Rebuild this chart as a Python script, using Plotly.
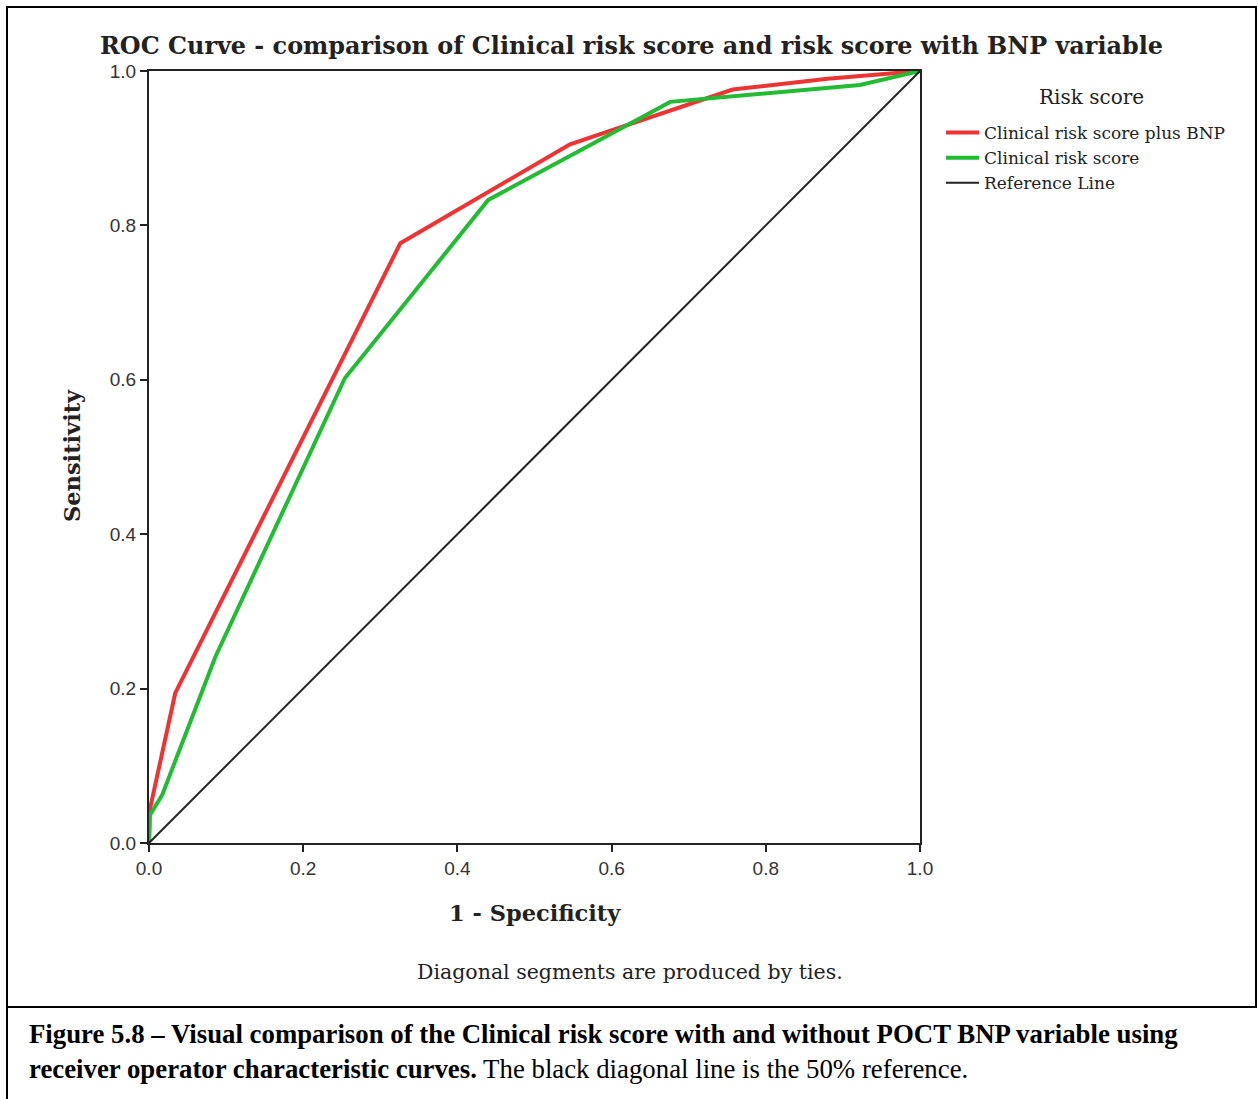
import plotly.graph_objects as go

# Data
bnp_fpr = [0.0, 0.001, 0.034, 0.326, 0.546, 0.757, 0.88, 1.0]
bnp_tpr = [0.0, 0.043, 0.194, 0.777, 0.905, 0.976, 0.99, 1.0]
clin_fpr = [0.0, 0.001, 0.017, 0.086, 0.254, 0.440, 0.676, 0.922, 1.0]
clin_tpr = [0.0, 0.036, 0.062, 0.241, 0.602, 0.833, 0.960, 0.982, 1.0]
ref_x = [0.0, 1.0]
ref_y = [0.0, 1.0]
tick_vals = [0.0, 0.2, 0.4, 0.6, 0.8, 1.0]
tick_text = ["0.0", "0.2", "0.4", "0.6", "0.8", "1.0"]

W, H = 1258, 1099
def px(x):
    return x / W
def py(y):
    return 1 - y / H

serif = "DejaVu Serif"
fig = go.Figure()
fig.add_trace(go.Scatter(x=bnp_fpr, y=bnp_tpr, mode="lines", name="Clinical risk score plus BNP",
                         line=dict(color="#ee3333", width=4)))
fig.add_trace(go.Scatter(x=clin_fpr, y=clin_tpr, mode="lines", name="Clinical risk score",
                         line=dict(color="#22bb33", width=4)))
fig.add_trace(go.Scatter(x=ref_x, y=ref_y, mode="lines", name="Reference Line",
                         line=dict(color="#222222", width=2)))

axis_common = dict(range=[0, 1], tickvals=tick_vals, ticktext=tick_text, showline=True,
                   linecolor="#222222", linewidth=2, mirror=True, ticks="outside", ticklen=7,
                   tickwidth=2, tickcolor="#222222", showgrid=False, zeroline=False,
                   automargin=False,
                   tickfont=dict(family="Liberation Sans", size=19, color="#333333"))

fig.update_layout(
    width=W, height=H, margin=dict(l=0, r=0, t=0, b=0),
    paper_bgcolor="white", plot_bgcolor="white",
    xaxis=dict(domain=[px(149), px(920)], anchor="y", **axis_common),
    yaxis=dict(domain=[py(843), py(71)], anchor="x", **axis_common),
    showlegend=True,
    legend=dict(x=px(941), y=py(115), xanchor="left", yanchor="top",
                font=dict(family=serif, size=17, color="#222222"),
                itemwidth=33, tracegroupgap=0, bgcolor="rgba(0,0,0,0)"),
)

anns = [
    dict(x=px(631), y=py(46), text="<b>ROC Curve - comparison of Clinical risk score and risk score with BNP variable</b>",
         font=dict(family=serif, size=23.9, color="#222222")),
    dict(x=px(72), y=py(456), text="<b>Sensitivity</b>", textangle=-90,
         font=dict(family=serif, size=22.5, color="#222222")),
    dict(x=px(535), y=py(913), text="<b>1 - Specificity</b>",
         font=dict(family=serif, size=22.5, color="#222222")),
    dict(x=px(630), y=py(972), text="Diagonal segments are produced by ties.",
         font=dict(family=serif, size=20.5, color="#222222")),
    dict(x=px(1091), y=py(97), text="Risk score",
         font=dict(family=serif, size=20, color="#222222")),
]
for a in anns:
    fig.add_annotation(xref="paper", yref="paper", showarrow=False, xanchor="center", yanchor="middle", **a)

fig.add_annotation(xref="paper", yref="paper", showarrow=False, xanchor="left", yanchor="middle",
                   x=px(27), y=py(1034),
                   text="<b>Figure 5.8 – Visual comparison of the Clinical risk score with and without POCT BNP variable using</b>",
                   font=dict(family="Liberation Serif", size=26.8, color="black"))
fig.add_annotation(xref="paper", yref="paper", showarrow=False, xanchor="left", yanchor="middle",
                   x=px(27), y=py(1069),
                   text="<b>receiver operator characteristic curves.</b> The black diagonal line is the 50% reference.",
                   font=dict(family="Liberation Serif", size=26.8, color="black"))

# Frame lines
fig.add_shape(type="rect", xref="paper", yref="paper", x0=px(7), x1=px(1256), y0=py(1007), y1=py(7),
              line=dict(color="black", width=2))
fig.add_shape(type="line", xref="paper", yref="paper", x0=px(7), x1=px(7), y0=py(1099), y1=py(1007),
              line=dict(color="black", width=2))

fig.write_html("out.html",
               post_script="document.body.style.margin='0';document.body.style.padding='0';"
                           "document.body.style.overflow='hidden';")
